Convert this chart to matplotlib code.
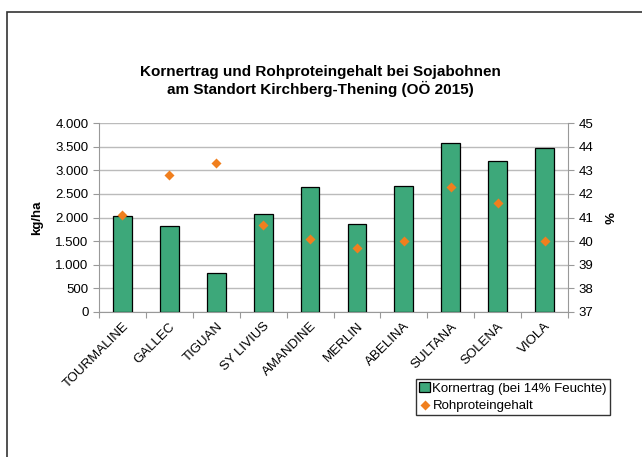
import numpy as np
import matplotlib.pyplot as plt
from matplotlib.patches import Rectangle

plt.rcParams['font.family'] = ['Liberation Sans', 'DejaVu Sans']

# Daten
sorten = ['TOURMALINE', 'GALLEC', 'TIGUAN', 'SY LIVIUS', 'AMANDINE',
          'MERLIN', 'ABELINA', 'SULTANA', 'SOLENA', 'VIOLA']
kornertrag = [2025, 1827, 832, 2067, 2638, 1862, 2667, 3577, 3196, 3478]
rohprotein = [41.1, 42.8, 43.3, 40.7, 40.1, 39.7, 40.0, 42.3, 41.6, 40.0]

W, H = 642, 457
fig = plt.figure(figsize=(W / 100, H / 100), dpi=100)

# Rahmen um das Diagramm
fig.patches.append(Rectangle((7 / W, -0.1), 1.0, 1 - 12 / H + 0.1,
                             transform=fig.transFigure, fill=False,
                             edgecolor='#333333', linewidth=1.2))

ax = fig.add_axes([99 / W, 1 - 312 / H, (568 - 99) / W, (312 - 123) / H])
x = np.arange(len(sorten))

ax.bar(x, kornertrag, width=0.4, color='#3DA87A', edgecolor='black',
       linewidth=0.9, zorder=3, label='Kornertrag (bei 14% Feuchte)')
ax.set_xlim(-0.5, len(sorten) - 0.5)
ax.set_ylim(0, 4000)
ax.set_yticks(np.arange(0, 4001, 500))
ax.set_yticklabels([f'{v:,}'.replace(',', '.') for v in range(0, 4001, 500)])
ax.grid(axis='y', color='#BBBBBB', linewidth=1.0, zorder=0)
ax.set_axisbelow(True)

# Striche zwischen den Kategorien, Beschriftung in der Mitte
ax.set_xticks(np.arange(-0.5, len(sorten), 1.0))
ax.set_xticklabels([])
ax.set_xticks(x, minor=True)
ax.set_xticklabels(sorten, minor=True, rotation=45, ha='right',
                   rotation_mode='anchor', fontsize=9.5)
ax.tick_params(axis='x', which='minor', length=0, pad=6)
ax.tick_params(axis='x', which='major', length=4, color='#999999')
ax.tick_params(axis='y', length=4, color='#999999', labelsize=9.5)

for s in ['top', 'right']:
    ax.spines[s].set_visible(False)
ax.spines['left'].set_color('#999999')
ax.spines['bottom'].set_color('#999999')

ax2 = ax.twinx()
ax2.scatter(x, rohprotein, marker='D', s=26, color='#F07F1E', zorder=4,
            label='Rohproteingehalt', linewidths=0)
ax2.set_ylim(37, 45)
ax2.set_yticks(np.arange(37, 46, 1))
ax2.tick_params(axis='y', length=4, color='#999999', labelsize=9.5)
for s in ['top', 'left', 'bottom']:
    ax2.spines[s].set_visible(False)
ax2.spines['right'].set_color('#999999')

fig.text(37 / W, 1 - 218 / H, 'kg/ha', rotation=90, ha='center', va='center',
         fontsize=9.5, fontweight='bold')
fig.text(607 / W, 1 - 218 / H, '%', rotation=-90, ha='center', va='center',
         fontsize=9.5, fontweight='bold')

fig.text(320 / W, 1 - 81 / H,
         'Kornertrag und Rohproteingehalt bei Sojabohnen\n'
         'am Standort Kirchberg-Thening (OÖ 2015)',
         ha='center', va='center', fontsize=11, fontweight='bold',
         linespacing=1.15)

h1, l1 = ax.get_legend_handles_labels()
h2, l2 = ax2.get_legend_handles_labels()
leg = fig.legend(h1 + h2, l1 + l2, loc='upper left',
                 bbox_to_anchor=(416 / W, 1 - 379 / H), fontsize=9.5,
                 frameon=True, fancybox=False, edgecolor='black',
                 borderpad=0.25, handlelength=0.8, handleheight=0.8,
                 handletextpad=0.2, labelspacing=0.3, borderaxespad=0)
leg.get_frame().set_linewidth(1.0)

fig.savefig('out.png', dpi=100)
